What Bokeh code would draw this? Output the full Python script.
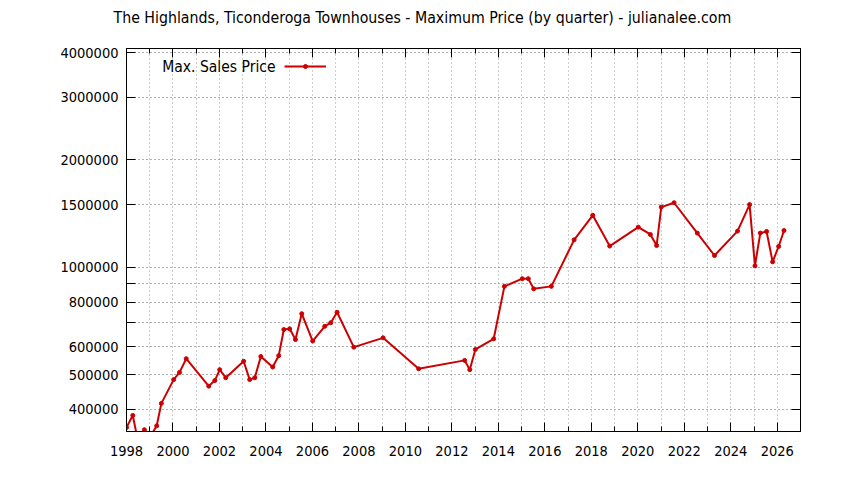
from bokeh.plotting import figure
from bokeh.models import (ColumnDataSource, Range1d, FixedTicker, LinearAxis, LogAxis,
                          Label, Legend, LegendItem, Title)
from bokeh.embed import file_html
from bokeh.resources import INLINE

# Max sales price per quarter
years = [1998.0, 1998.27, 1998.52, 1998.77, 1999.02, 1999.30, 1999.5, 2000.03, 2000.28, 2000.57,
         2001.54, 2001.8, 2002.01, 2002.27, 2003.04, 2003.30, 2003.52, 2003.78, 2004.29, 2004.55,
         2004.77, 2005.02, 2005.27, 2005.54, 2006.01, 2006.53, 2006.79, 2007.06, 2007.78, 2009.04,
         2010.57, 2012.55, 2012.77, 2013.01, 2013.80, 2014.26, 2015.03, 2015.29, 2015.52, 2016.28,
         2017.26, 2018.06, 2018.79, 2020.02, 2020.54, 2020.81, 2021.01, 2021.56, 2022.56, 2023.30,
         2024.29, 2024.81, 2025.04, 2025.27, 2025.54, 2025.80, 2026.06, 2026.29]
prices = [356000, 385000, 320000, 351000, 335000, 360000, 416000, 485000, 508000, 555000,
          465000, 482000, 517000, 491000, 546000, 485000, 491000, 563000, 526000, 566000,
          670000, 673000, 628000, 742000, 622000, 684000, 700000, 749000, 598000, 635000,
          520000, 549000, 517000, 589000, 631000, 885000, 930000, 930000, 871000, 885000,
          1195000, 1400000, 1148000, 1297000, 1237000, 1152000, 1476000, 1518000, 1248000, 1080000,
          1264000, 1500000, 1010000, 1248000, 1261000, 1037000, 1145000, 1269000]

year_ticks = list(range(1998, 2027, 2))
year_minor = list(range(1999, 2028, 2))
price_ticks = [400000, 500000, 600000, 700000, 800000, 900000, 1000000, 1500000, 2000000, 3000000, 4000000]
price_labels = ["400000", "500000", "600000", "", "800000", "", "1000000", "1500000", "2000000", "3000000", "4000000"]

title = "The Highlands, Ticonderoga Townhouses - Maximum Price (by quarter) - julianalee.com"
series_name = "Max. Sales Price"

FONT = "DejaVu Sans Condensed"
RED = "#cc0000"

source = ColumnDataSource(dict(year=years, price=prices))

p = figure(width=844, height=480, y_axis_type="log",
           x_range=Range1d(1998, 2027), y_range=Range1d(347000, 4106000),
           x_axis_location=None, y_axis_location=None,
           output_backend="svg", toolbar_location=None,
           min_border_left=126, min_border_right=44, min_border_top=48, min_border_bottom=49)
p.outline_line_color = "black"
p.outline_line_width = 1

p.title.text = title
p.title.text_font = FONT
p.title.text_font_size = "15.75px"
p.title.text_font_style = "normal"
p.title.text_color = "black"
p.title.align = "left"
p.title.offset = -13

xticker = FixedTicker(ticks=year_ticks, minor_ticks=year_minor)
yticker = FixedTicker(ticks=price_ticks)


def style(ax):
    ax.axis_line_color = "black"
    ax.major_tick_line_color = "black"
    ax.minor_tick_line_color = "black"
    ax.major_tick_out = 0
    ax.minor_tick_out = 0
    ax.major_label_text_font = FONT
    ax.major_label_text_font_size = "14.5px"
    ax.major_label_text_color = "black"


bottom = LinearAxis(ticker=xticker, major_tick_in=9, minor_tick_in=5, major_label_standoff=14)
top = LinearAxis(ticker=xticker, major_tick_in=9, minor_tick_in=5, major_label_standoff=0,
                 major_label_overrides={t: "" for t in year_ticks})
left = LogAxis(ticker=yticker, major_tick_in=9, minor_tick_in=0, major_label_standoff=8,
               major_label_overrides=dict(zip(price_ticks, price_labels)))
right = LogAxis(ticker=yticker, major_tick_in=9, minor_tick_in=0, major_label_standoff=0,
                major_label_overrides={t: "" for t in price_ticks})
for ax in (bottom, top, left, right):
    style(ax)
p.add_layout(bottom, "below")
p.add_layout(left, "left")
p.add_layout(top, "above")
p.add_layout(right, "right")
# blank spacer between the top axis and the title
p.add_layout(Title(text=" ", text_font_size="10px", standoff=4), "above")

p.xgrid.ticker = xticker
p.ygrid.ticker = yticker
p.xgrid.grid_line_color = "#9a9a9a"
p.xgrid.grid_line_dash = "1 3"
p.xgrid.minor_grid_line_color = "#9a9a9a"
p.xgrid.minor_grid_line_dash = "1 3"
p.ygrid.grid_line_color = "#606060"
p.ygrid.grid_line_dash = "1 3"

ln = p.line("year", "price", source=source, line_color=RED, line_width=2)
pt = p.scatter("year", "price", source=source, marker="circle", size=4,
               fill_color=RED, line_color=RED)

legend = Legend(items=[LegendItem(label=" ", renderers=[ln, pt])], location=(158, 360),
                padding=0, margin=0, glyph_width=42, glyph_height=10, label_height=10,
                background_fill_alpha=0, border_line_alpha=0, label_text_font_size="10px")
p.add_layout(legend)

p.add_layout(Label(x=149, y=365, x_units="screen", y_units="screen", text=series_name,
                   text_align="right", text_baseline="middle", text_font=FONT,
                   text_font_size="15.5px", text_color="black"))

open("out.html", "w").write(file_html(p, INLINE))
